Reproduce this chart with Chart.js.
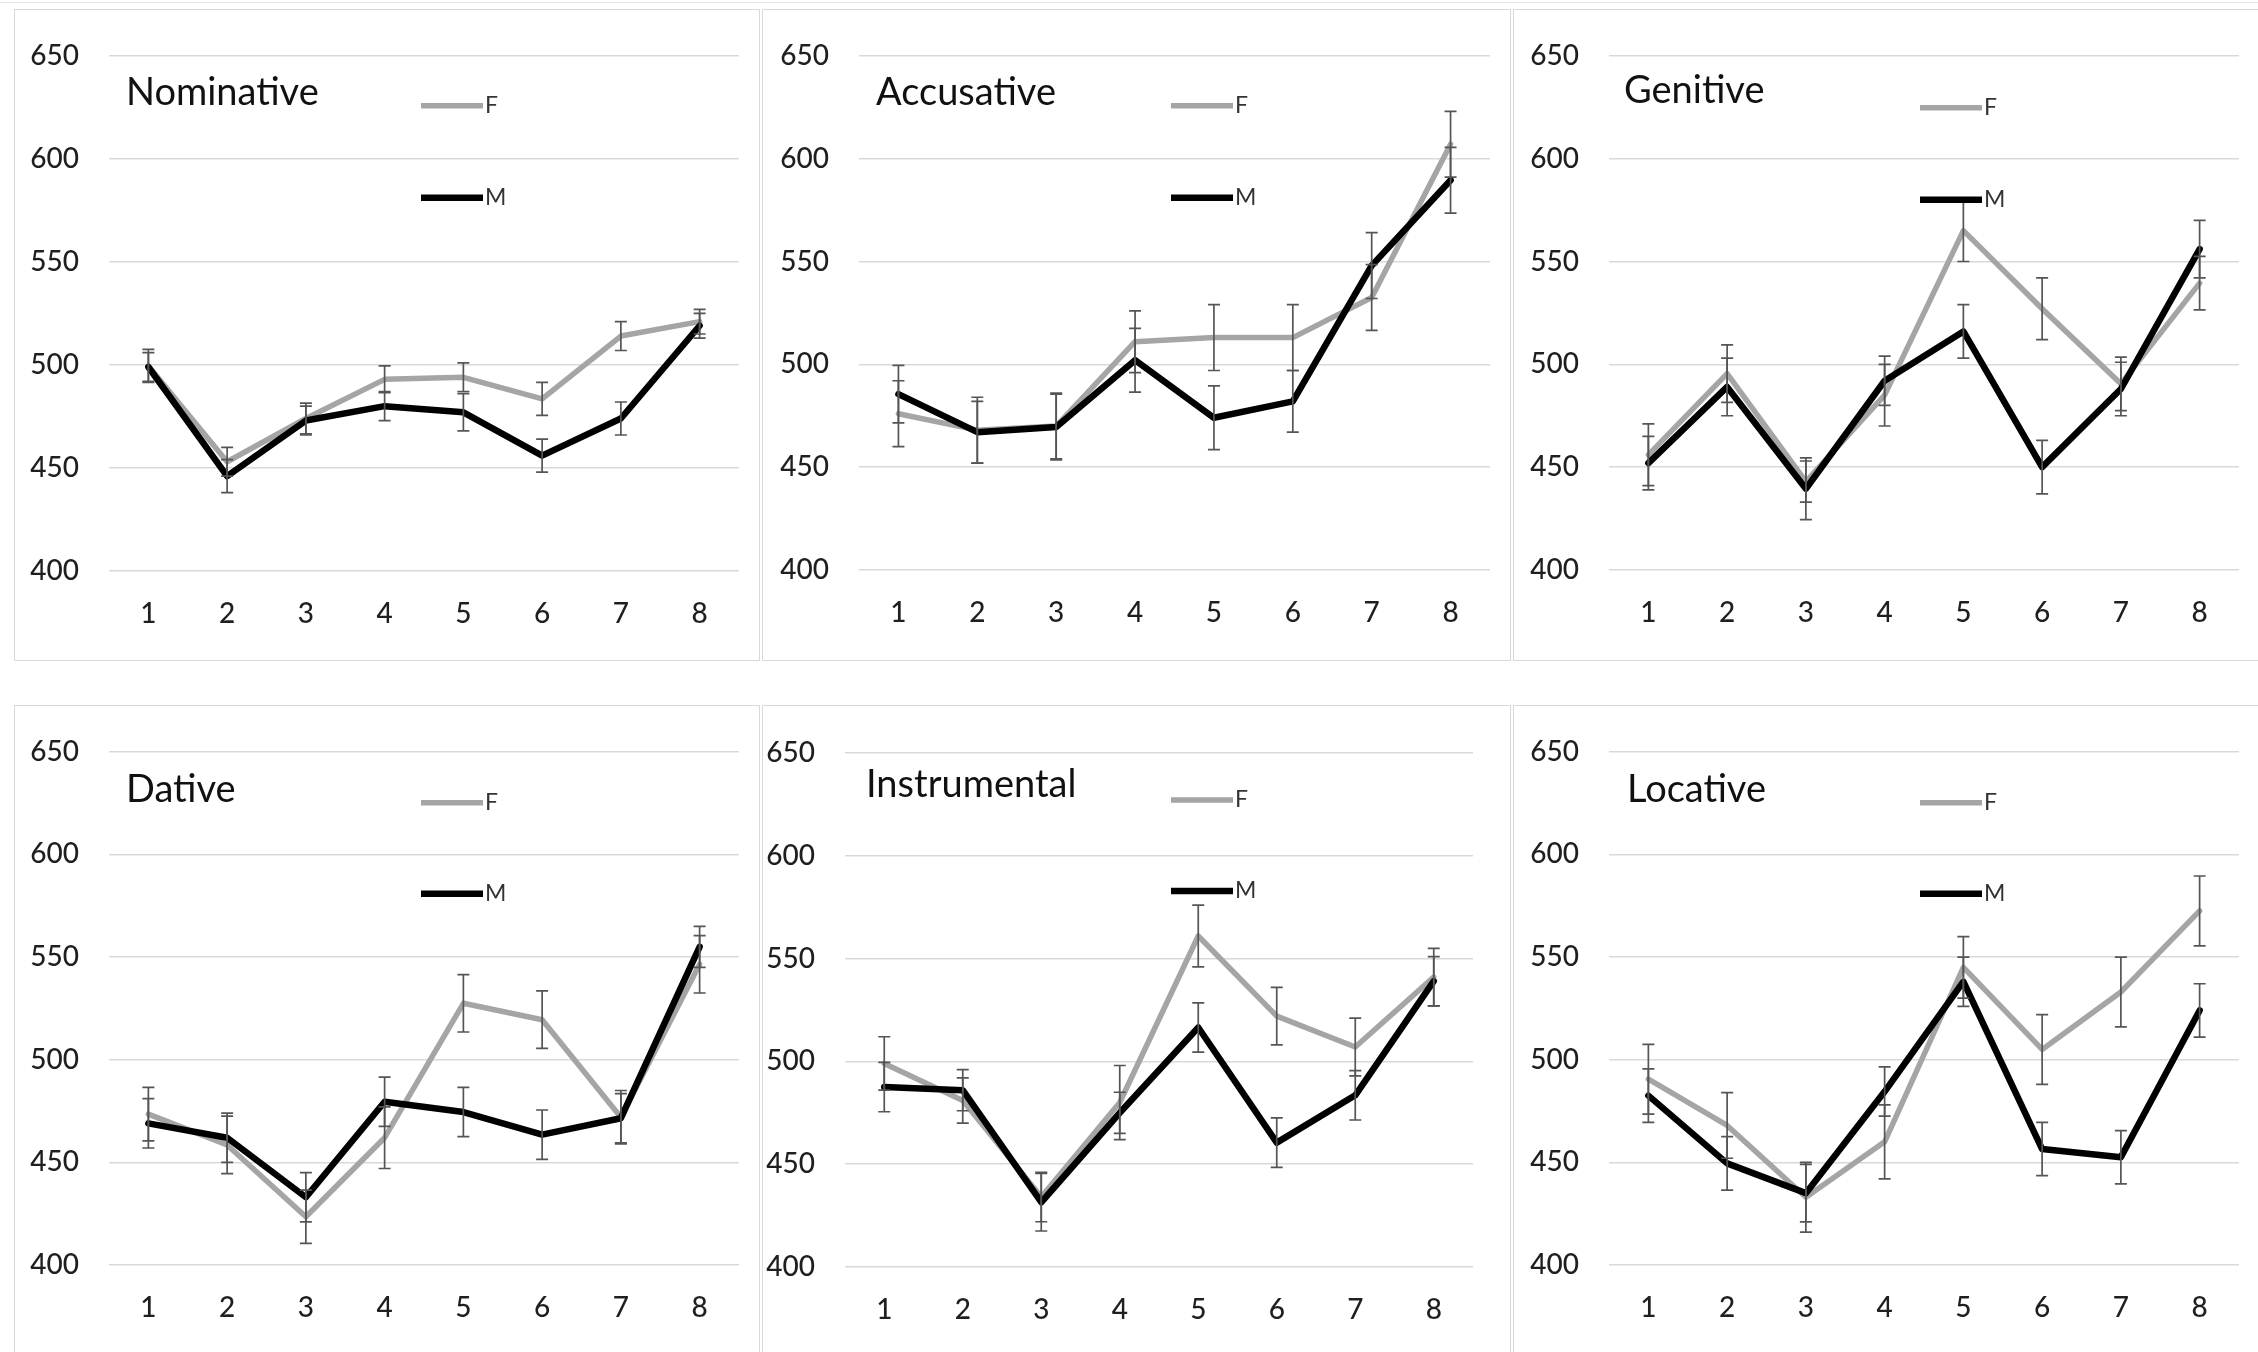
<!DOCTYPE html>
<html>
<head>
<meta charset="utf-8">
<script src="https://cdn.jsdelivr.net/npm/chart.js@4"></script>
<style>
  html, body { margin: 0; padding: 0; background: #fff; }
  body { width: 2258px; height: 1352px; position: relative; overflow: hidden; }
  .frame { position: absolute; border: 1.5px solid #d9d9d9; box-sizing: border-box; pointer-events: none; }
  .topline { position: absolute; left: 0; top: 2px; width: 2258px; height: 0; border-top: 1.5px solid #e3e3e3; }
  canvas { position: absolute; }
</style>
</head>
<body>
<div class="topline"></div>
<script>
const categories = ['1', '2', '3', '4', '5', '6', '7', '8'];
const yTicks = [400, 450, 500, 550, 600, 650];
const caseNames = ['Nominative', 'Accusative', 'Genitive', 'Dative', 'Instrumental', 'Locative'];
const seriesNames = ['F', 'M'];

const nominativeF = [499.5, 453, 474, 493, 494, 483.5, 514, 521];
const nominativeM = [499, 446, 473, 480, 477, 456, 474, 519];
const nominativeFErr = [8, 7, 7.5, 6.5, 7, 8, 7, 6];
const nominativeMErr = [7, 8, 7, 7, 9, 8, 8, 6];

const accusativeF = [476, 468, 470, 511, 513, 513, 532.5, 607];
const accusativeM = [485.5, 467, 469.5, 502, 474, 482, 548, 589.5];
const accusativeFErr = [16, 16, 16, 15, 16, 16, 16, 16];
const accusativeMErr = [14, 15, 16, 15.5, 15.5, 15, 16, 16];

const genitiveF = [456, 495.5, 443, 485, 565, 527, 490.5, 539.5];
const genitiveM = [452, 489, 439.5, 492, 516, 450, 488, 556];
const genitiveFErr = [15, 14, 10, 15, 15, 15, 13, 13];
const genitiveMErr = [13, 14, 15, 12, 13, 13, 13, 14];

const dativeF = [473.5, 458.5, 423.5, 462, 527.5, 519.5, 472, 546.5];
const dativeM = [469, 462, 433, 479.5, 474.5, 463.5, 471.5, 555];
const dativeFErr = [13, 14, 13, 15, 14, 14, 13, 14];
const dativeMErr = [12, 12, 12, 12, 12, 12, 12, 10];

const instrumentalF = [499, 481, 434, 480, 561, 522, 507, 541];
const instrumentalM = [487.5, 486, 431.5, 475, 516.5, 460.5, 483.5, 539];
const instrumentalFErr = [13, 11, 12, 18, 15, 14, 14, 14];
const instrumentalMErr = [12, 10, 14, 10, 12, 12, 12, 12];

const locativeF = [490.5, 468, 433, 460, 545, 505, 533, 572.5];
const locativeM = [482.5, 449.5, 435, 484.5, 538, 456.5, 452.5, 524];
const locativeFErr = [17, 16, 17, 18, 15, 17, 17, 17];
const locativeMErr = [13, 13, 14, 12, 12, 13, 13, 13];

const fSeries = [nominativeF, accusativeF, genitiveF, dativeF, instrumentalF, locativeF];
const mSeries = [nominativeM, accusativeM, genitiveM, dativeM, instrumentalM, locativeM];
const fErrors = [nominativeFErr, accusativeFErr, genitiveFErr, dativeFErr, instrumentalFErr, locativeFErr];
const mErrors = [nominativeMErr, accusativeMErr, genitiveMErr, dativeMErr, instrumentalMErr, locativeMErr];

// page layout: panel box [x, y, w, h], plot area [left, top, right, bottom], title / legend offsets
const panels = [
  { box: [14, 9, 746, 652],   area: [109, 55, 739, 571],    title: [17, 37], legend: [312, 50, 142] },
  { box: [762, 9, 749, 652],  area: [859, 55, 1490, 570],   title: [17, 37], legend: [312, 50, 142] },
  { box: [1513, 9, 760, 652], area: [1609, 53, 2239, 570],  title: [15, 35], legend: [311, 52, 144] },
  { box: [14, 705, 746, 660], area: [109, 749, 739, 1265],  title: [17, 38], legend: [312, 51, 142] },
  { box: [762, 705, 749, 660], area: [845, 753, 1473, 1267], title: [21, 32], legend: [326, 47, 138] },
  { box: [1513, 705, 760, 660], area: [1609, 749, 2239, 1265], title: [18, 38], legend: [311, 51, 142] }
];

const Y_W = 80, X_H = 60;
const FONT = 'Lato, "Open Sans", sans-serif';

const errorBars = {
  id: 'errorBars',
  afterDatasetsDraw(chart) {
    const ctx = chart.ctx, y = chart.scales.y;
    chart.data.datasets.forEach((ds, i) => {
      const meta = chart.getDatasetMeta(i);
      ctx.save();
      ctx.strokeStyle = '#555555';
      ctx.lineWidth = 1.7;
      meta.data.forEach((pt, j) => {
        const e = ds.errors[j];
        const top = y.getPixelForValue(ds.data[j] + e);
        const bot = y.getPixelForValue(ds.data[j] - e);
        ctx.beginPath();
        ctx.moveTo(pt.x, top); ctx.lineTo(pt.x, bot);
        ctx.moveTo(pt.x - 6, top); ctx.lineTo(pt.x + 6, top);
        ctx.moveTo(pt.x - 6, bot); ctx.lineTo(pt.x + 6, bot);
        ctx.stroke();
      });
      ctx.restore();
    });
  }
};

const panelText = {
  id: 'panelText',
  afterDraw(chart, args, opts) {
    const ctx = chart.ctx, a = chart.chartArea;
    ctx.save();
    ctx.fillStyle = '#111';
    ctx.font = '38px ' + FONT;
    ctx.textBaseline = 'middle';
    ctx.fillText(opts.title, a.left + opts.titlePos[0], a.top + opts.titlePos[1]);
    const lx = a.left + opts.legend[0];
    chart.data.datasets.forEach((ds, i) => {
      const ly = a.top + opts.legend[1 + i];
      ctx.strokeStyle = ds.borderColor;
      ctx.lineWidth = ds.borderWidth;
      ctx.beginPath();
      ctx.moveTo(lx, ly); ctx.lineTo(lx + 62, ly);
      ctx.stroke();
      ctx.fillStyle = '#333';
      ctx.font = '23px ' + FONT;
      ctx.fillText(ds.label, lx + 64, ly);
    });
    ctx.restore();
  }
};

panels.forEach((p, k) => {
  const [bx, by, bw, bh] = p.box;
  const [al, at, ar, ab] = p.area;

  const frame = document.createElement('div');
  frame.className = 'frame';
  Object.assign(frame.style, { left: bx + 'px', top: by + 'px', width: bw + 'px', height: bh + 'px' });

  const canvas = document.createElement('canvas');
  canvas.width = bw; canvas.height = bh;
  Object.assign(canvas.style, { left: bx + 'px', top: by + 'px', width: bw + 'px', height: bh + 'px' });
  document.body.appendChild(canvas);
  document.body.appendChild(frame);

  new Chart(canvas, {
    type: 'line',
    data: {
      labels: categories,
      datasets: [
        {
          label: seriesNames[0],
          data: fSeries[k],
          errors: fErrors[k],
          borderColor: '#a5a5a5',
          borderWidth: 5.5,
          order: 1
        },
        {
          label: seriesNames[1],
          data: mSeries[k],
          errors: mErrors[k],
          borderColor: '#000000',
          borderWidth: 6.5,
          order: 0
        }
      ]
    },
    options: {
      responsive: false,
      animation: false,
      devicePixelRatio: 1,
      elements: {
        point: { radius: 0, hoverRadius: 0 },
        line: { tension: 0, borderJoinStyle: 'round', borderCapStyle: 'round', fill: false }
      },
      layout: {
        autoPadding: false,
        padding: {
          left: al - bx - Y_W,
          top: at - by,
          right: bx + bw - ar,
          bottom: by + bh - ab - X_H
        }
      },
      scales: {
        x: {
          type: 'category',
          offset: true,
          grid: { display: false },
          border: { display: false },
          ticks: { color: '#1f1f1f', font: { family: FONT, size: 28, weight: '500' }, padding: 18, maxRotation: 0 },
          afterFit: s => { s.height = X_H; }
        },
        y: {
          min: yTicks[0],
          max: yTicks[yTicks.length - 1],
          grid: { color: '#d9d9d9', lineWidth: 1.5, drawTicks: false },
          border: { display: false },
          ticks: { color: '#1f1f1f', font: { family: FONT, size: 28, weight: '500' }, padding: 30 },
          afterBuildTicks: s => { s.ticks = yTicks.map(v => ({ value: v })); },
          afterFit: s => { s.width = Y_W; }
        }
      },
      plugins: {
        legend: { display: false },
        tooltip: { enabled: false },
        panelText: { title: caseNames[k], titlePos: p.title, legend: p.legend }
      }
    },
    plugins: [errorBars, panelText]
  });
});
</script>
</body>
</html>
